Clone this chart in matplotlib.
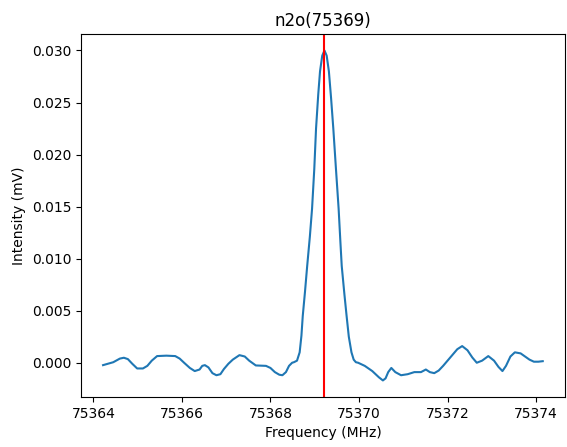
"""Spectrum line plot around the n2o 75369 MHz transition."""

import matplotlib
matplotlib.use('Agg')
import matplotlib.pyplot as plt


TITLE = 'n2o(75369)'
LINE_FREQ = 75369.2

freq = [
    75364.22, 75364.45, 75364.60, 75364.69, 75364.78, 75364.88, 75364.99,
    75365.12, 75365.22, 75365.32, 75365.44, 75365.65, 75365.85, 75365.95,
    75366.05, 75366.18, 75366.29, 75366.40, 75366.46, 75366.52, 75366.60,
    75366.69, 75366.78, 75366.87, 75366.95, 75367.05, 75367.15, 75367.30,
    75367.42, 75367.52, 75367.67, 75367.90, 75368.00, 75368.10, 75368.20,
    75368.27, 75368.35, 75368.42, 75368.49, 75368.53, 75368.60, 75368.66,
    75368.70, 75368.73, 75368.78, 75368.83, 75368.89, 75368.94, 75368.99,
    75369.03, 75369.08, 75369.12, 75369.17, 75369.22, 75369.27, 75369.32,
    75369.37, 75369.42, 75369.48, 75369.54, 75369.58, 75369.61, 75369.67,
    75369.72, 75369.77, 75369.83, 75369.88, 75369.93, 75369.98, 75370.13,
    75370.30, 75370.45, 75370.54, 75370.60, 75370.66, 75370.73, 75370.82,
    75370.95, 75371.10, 75371.25, 75371.40, 75371.51, 75371.60, 75371.70,
    75371.80, 75371.90, 75372.00, 75372.10, 75372.22, 75372.33, 75372.45,
    75372.56, 75372.66, 75372.78, 75372.92, 75373.05, 75373.15, 75373.24,
    75373.32, 75373.42, 75373.52, 75373.65, 75373.75, 75373.85, 75373.95,
    75374.05, 75374.15]

intensity = [
    -0.00023, 0.00005, 0.00040, 0.00048, 0.00035, -0.00010, -0.00055,
    -0.00055, -0.00030, 0.00020, 0.00064, 0.00068, 0.00064, 0.00040,
    0.00000, -0.00050, -0.00080, -0.00065, -0.00030, -0.00023, -0.00045,
    -0.00100, -0.00120, -0.00110, -0.00060, -0.00010, 0.00030, 0.00073,
    0.00060, 0.00020, -0.00026, -0.00030, -0.00050, -0.00090, -0.00115,
    -0.00120, -0.00090, -0.00030, 0.00000, 0.00005, 0.00020, 0.00100,
    0.00260, 0.00450, 0.00680, 0.00930, 0.01210, 0.01480, 0.01860,
    0.02250, 0.02580, 0.02800, 0.02950, 0.03000, 0.02950, 0.02800,
    0.02540, 0.02250, 0.01860, 0.01480, 0.01160, 0.00930, 0.00660,
    0.00450, 0.00250, 0.00100, 0.00030, 0.00005, 0.00000, -0.00030,
    -0.00080, -0.00140, -0.00170, -0.00150, -0.00090, -0.00050, -0.00090,
    -0.00120, -0.00110, -0.00090, -0.00090, -0.00065, -0.00090, -0.00100,
    -0.00075, -0.00030, 0.00020, 0.00070, 0.00130, 0.00160, 0.00120,
    0.00050, 0.00000, 0.00020, 0.00064, 0.00020, -0.00040, -0.00080,
    -0.00030, 0.00060, 0.00100, 0.00090, 0.00060, 0.00030, 0.00010,
    0.00010, 0.00015]


def main():
    """Draw and save the spectrum."""

    # initialize figure
    fig = plt.figure(figsize=(5.67, 4.47), dpi=100)
    ax = fig.add_axes([0.143, 0.112, 0.853, 0.812])

    # plot spectrum and line position
    ax.plot(freq, intensity)
    ax.axvline(LINE_FREQ, color='r')

    # labels
    ax.set_title(TITLE)
    ax.set_xlabel('Frequency (MHz)')
    ax.set_ylabel('Intensity (mV)')

    # save
    fig.savefig('out.png')
    plt.close(fig)


if __name__ == '__main__':
    main()
